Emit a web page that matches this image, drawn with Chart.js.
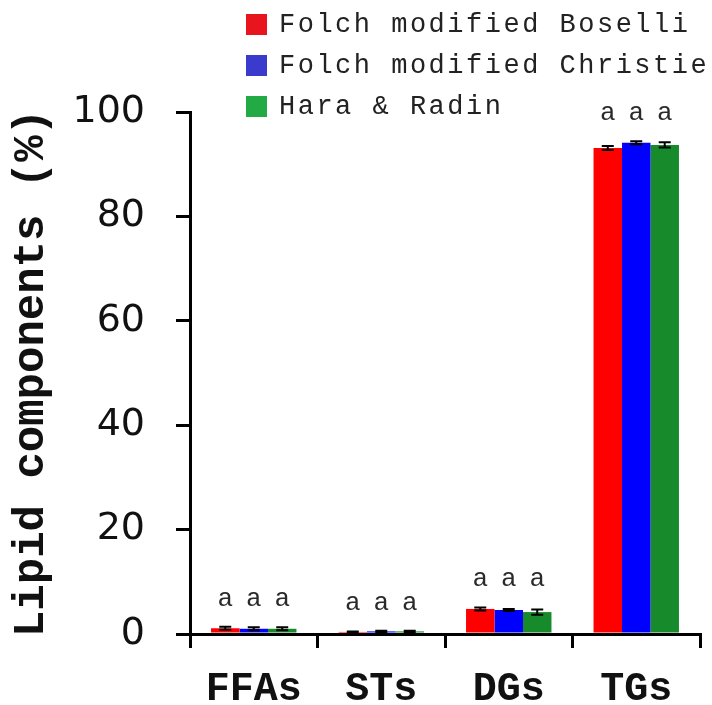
<!DOCTYPE html>
<html>
<head>
<meta charset="utf-8">
<script src="https://cdn.jsdelivr.net/npm/chart.js@4/dist/chart.umd.min.js"></script>
<style>
  html, body { margin: 0; padding: 0; background: #fff; }
  #chart { display: block; }
</style>
</head>
<body>
<canvas id="chart" width="712" height="705"></canvas>
<script>
// Data
const categories = ['FFAs', 'STs', 'DGs', 'TGs'];
const seriesNames = ['Folch modified Boselli', 'Folch modified Christie', 'Hara & Radin'];

const boselli = [1.1, 0.4, 4.8, 93.1];
const christie = [1.0, 0.5, 4.6, 94.1];
const haraRadin = [1.0, 0.5, 4.2, 93.7];

const boselliErr = [0.3, 0.1, 0.3, 0.4];
const christieErr = [0.3, 0.1, 0.2, 0.3];
const haraRadinErr = [0.3, 0.1, 0.5, 0.5];

const boselliSig = ['a', 'a', 'a', 'a'];
const christieSig = ['a', 'a', 'a', 'a'];
const haraRadinSig = ['a', 'a', 'a', 'a'];

const yTicks = [0, 20, 40, 60, 80, 100];

const MONO = '"Liberation Mono", "DejaVu Sans Mono", monospace';

// error bars with caps
const errorBars = {
  id: 'errorBars',
  afterDatasetsDraw(chart) {
    const { ctx, scales: { y } } = chart;
    ctx.save();
    ctx.strokeStyle = '#000';
    ctx.lineWidth = 2;
    chart.data.datasets.forEach((ds, i) => {
      chart.getDatasetMeta(i).data.forEach((bar, j) => {
        const v = ds.data[j], e = ds.errors[j];
        const top = y.getPixelForValue(v + e);
        const bot = y.getPixelForValue(v - e);
        ctx.beginPath();
        ctx.moveTo(bar.x, top); ctx.lineTo(bar.x, bot);
        ctx.moveTo(bar.x - 6, top); ctx.lineTo(bar.x + 6, top);
        ctx.moveTo(bar.x - 6, bot); ctx.lineTo(bar.x + 6, bot);
        ctx.stroke();
      });
    });
    ctx.restore();
  }
};

// significance letters above each group
const sigLetters = {
  id: 'sigLetters',
  afterDatasetsDraw(chart) {
    const { ctx, scales: { y } } = chart;
    const sets = chart.data.datasets;
    ctx.save();
    ctx.font = '26px ' + MONO;
    ctx.fillStyle = '#2a2a2a';
    ctx.textAlign = 'center';
    ctx.textBaseline = 'middle';
    categories.forEach((c, j) => {
      const tops = sets.map(ds => y.getPixelForValue(ds.data[j] + ds.errors[j]));
      const ly = Math.min(...tops) - 28;
      sets.forEach((ds, i) => {
        const bar = chart.getDatasetMeta(i).data[j];
        ctx.fillText(ds.letters[j], bar.x, ly);
      });
    });
    ctx.restore();
  }
};

// stacked legend in the top right
const boxLegend = {
  id: 'boxLegend',
  afterDraw(chart, args, opts) {
    const { ctx } = chart;
    ctx.save();
    ctx.font = '27px ' + MONO;
    ctx.letterSpacing = '2.5px';
    ctx.textBaseline = 'middle';
    chart.data.datasets.forEach((ds, i) => {
      const cy = opts.top + i * opts.gap;
      ctx.fillStyle = opts.colors[i];
      ctx.fillRect(opts.left, cy - 10, 21, 21);
      ctx.fillStyle = '#222';
      ctx.fillText(ds.label, opts.left + 33, cy + 1);
    });
    ctx.restore();
  }
};

new Chart(document.getElementById('chart'), {
  type: 'bar',
  data: {
    labels: categories,
    datasets: [
      { label: seriesNames[0], data: boselli, errors: boselliErr, letters: boselliSig, backgroundColor: '#ff0000' },
      { label: seriesNames[1], data: christie, errors: christieErr, letters: christieSig, backgroundColor: '#0000ff' },
      { label: seriesNames[2], data: haraRadin, errors: haraRadinErr, letters: haraRadinSig, backgroundColor: '#178a2c' }
    ]
  },
  options: {
    responsive: false,
    devicePixelRatio: 1,
    animation: false,
    layout: { padding: { top: 112, right: 12, left: 0, bottom: 0 } },
    datasets: { bar: { categoryPercentage: 0.67, barPercentage: 1.0 } },
    plugins: {
      legend: { display: false },
      tooltip: { enabled: false },
      boxLegend: { left: 246, top: 24, gap: 41, colors: ['#e8141e', '#3a3acc', '#22aa44'] }
    },
    scales: {
      x: {
        grid: { display: true, drawOnChartArea: false, offset: true, color: '#000', lineWidth: 3, tickLength: 14 },
        border: { color: '#000', width: 3 },
        ticks: { color: '#111', padding: 18, font: { family: MONO, size: 40, weight: 'bold' } },
        afterFit(scale) { scale.height = 71; }
      },
      y: {
        min: 0,
        max: 100,
        afterBuildTicks(scale) { scale.ticks = yTicks.map(v => ({ value: v })); },
        grid: { drawOnChartArea: false, color: '#000', lineWidth: 3, tickLength: 14 },
        border: { color: '#000', width: 3 },
        ticks: { color: '#111', padding: 31, font: { family: '"DejaVu Sans", sans-serif', size: 38 } },
        title: {
          display: true,
          text: 'Lipid components (%)',
          color: '#111',
          padding: { top: 6, bottom: 0 },
          font: { family: MONO, size: 44, weight: 'bold' }
        },
        afterFit(scale) { scale.width = 190; }
      }
    }
  },
  plugins: [errorBars, sigLetters, boxLegend]
});
</script>
</body>
</html>
